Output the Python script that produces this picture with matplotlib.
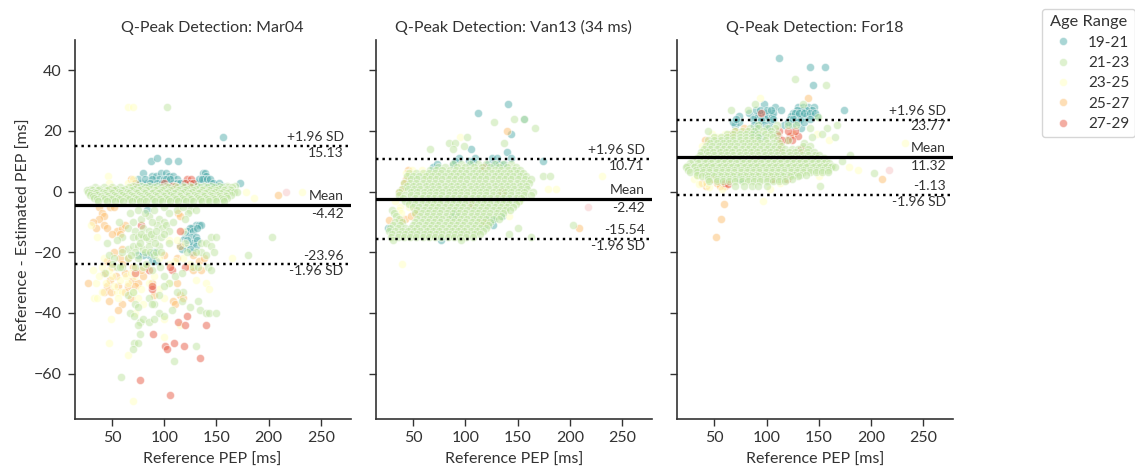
import numpy as np
import matplotlib
matplotlib.use("Agg")
import matplotlib.pyplot as plt
from matplotlib.lines import Line2D

plt.rcParams['font.family'] = ['Lato', 'DejaVu Sans']

age_ranges = ['19-21', '21-23', '23-25', '25-27', '27-29']
age_colors = ['#54aead', '#bfe5a0', '#ffffbe', '#fdbf6f', '#e95c47']
pale_pink = '#f6c4c4'

titles = ['Q-Peak Detection: Mar04', 'Q-Peak Detection: Van13 (34 ms)', 'Q-Peak Detection: For18']
mean_values = [-4.42, -2.42, 11.32]
upper_values = [15.13, 10.71, 23.77]
lower_values = [-23.96, -15.54, -1.13]
pink_points = [(217, 0), (217, -5), (217, 7)]

# ---- Mar04 -----
mar_teal = [(156,18),(87,10),(93,11),(104,10),(113,10),(173,3),(80,6),(88,5),(92,5),(97,6),(102,6),(105,5),(108,5),(112,4),
            (118,3),(125,3),(130,3),(135,3),(137,6),(139,6),(140,5),(138,4),(142,3),(145,3),(150,2),(72,3),(78,3),(84,3),
            (90,3),(95,4),(100,4),(104,3),(108,3),(112,3),(75,4),(82,4),(88,4),(143,2),(148,2),(155,2),(130,-11),(133,-11),
            (127,-12),(135,-11),(125,-12),(122,-13),(128,-13),(131,-12),(120,-14),(126,-15),(130,-15),(118,-16),(123,-17),
            (128,-17),(131,-16),(115,-18),(120,-18),(130,-18),(127,-20),(90,-20),(85,-21),(80,-21),(88,-23),(75,-21),(92,-23),(84,-6),
            (86,3),(93,3),(98,3),(102,4),(106,4),(115,3),(121,3),(128,3),(133,4),(136,4),(141,4),(144,4),(147,3),(152,3),(122,-16),(117,-19),(125,-19)]
mar_orange = [(209,-1),(38,-5),(40,-7),(42,-8),(38,-9),(32,-10),(35,-12),(42,-11),(45,-12),(55,-13),(60,-12),(62,-11),(58,-14),
              (50,-14),(52,-20),(45,-23),(58,-22),(60,-24),(50,-25),(42,-27),(27,-30),(45,-31),(42,-33),(49,-33),(56,-31),(65,-31),
              (47,-36),(60,-37),(56,-39),(69,-29),(75,-30),(90,-34),(108,-36),(110,-37),(115,-34),(112,-22),(100,-21),(115,-18),
              (128,-21),(133,-23),(138,-22),(125,-25),(113,-7),(115,-8),(48,-5),(52,-5),(47,1),(50,1),(68,4),(72,3),(80,-28),
              (84,-25),(65,-22),(60,-19),(70,-25),(78,-26),(112,-30),(128,-26),(135,-26),(62,-33),(68,-35),(54,-28),(48,-29),
              (62,-27),(72,-31),(88,-30),(118,-35)]
mar_yellow = [(65,28),(70,28),(46,5),(47,3),(65,3),(70,4),(178,0),(186,-2),(232,0),(30,-11),(36,-15),(32,-26),(33,-35),(36,-35),
              (40,-33),(35,-30),(40,-25),(50,-28),(55,-33),(60,-33),(65,-30),(70,-33),(75,-35),(80,-37),(85,-30),(90,-28),(47,-50),
              (65,-54),(49,-42),(70,-69),(100,-48),(100,-42),(115,-44),(95,-32),(105,-30),(130,-29),(140,-30),(143,-32),(165,-22),
              (110,-23),(118,-22),(120,-17),(125,-24),(105,-24),(95,-22),(72,-40),(38,-28),(44,-30),(52,-31),(58,-29),(47,-26),
              (63,-28),(72,-28),(78,-32),(42,-22),(56,-35),(68,-27),(100,-35),(105,-16),(112,-16),(118,-13)]
mar_red = [(122,4),(126,4),(125,3),(128,3),(120,3),(110,2),(107,2),(100,3),(115,-13),(78,-11),(107,-26),(106,-25),(120,-25),(85,-26),
           (72,-27),(88,-32),(88,-31),(122,-41),(113,-43),(120,-44),(140,-44),(89,-47),(101,-51),(109,-50),(103,-52),(119,-51),
           (134,-55),(77,-62),(106,-67)]
mar_green_scatter = [(67,-7),(75,-6),(85,-8),(90,-6),(100,-5),(105,-7),(125,-6),(123,-7),(120,-9),(95,-9),(100,-10),(57,-10),(70,-10),
                     (65,-12),(72,-13),(80,-12),(85,-13),(93,-11),(98,-12),(102,-11),(105,-13),(60,-15),(70,-15),(75,-15),(80,-15),
                     (85,-16),(90,-15),(97,-15),(55,-16),(45,-17),(47,-21),(52,-22),(65,-19),(70,-18),(75,-18),(80,-19),(85,-18),
                     (95,-18),(105,-17),(135,-17),(140,-17),(145,-15),(150,-15),(135,-20),(145,-18),(148,-20),(122,-20),(130,-20),
                     (203,-15),(180,-21),(43,-27),(55,-25),(65,-22),(75,-22),(50,-24),(60,-25),(80,-25),(88,-26),(96,-25),(100,-28),
                     (105,-30),(110,-28),(117,-27),(128,-25),(132,-25),(142,-25),(145,-26),(140,-21),(118,-33),(112,-33),(100,-31),
                     (65,-34),(70,-33),(85,-35),(90,-37),(95,-34),(72,-37),(75,-38),(88,-37),(95,-40),(100,-41),(107,-39),(117,-36),
                     (125,-38),(132,-36),(134,-39),(140,-40),(143,-40),(150,-40),(67,-40),(71,-41),(77,-43),(80,-42),(85,-43),(90,-42),
                     (75,-44),(77,-47),(71,-50),(75,-50),(70,-52),(130,-51),(109,-56),(59,-61),(103,28),
                     (78,-14),(83,-15),(87,-14),(91,-17),(77,-17),(82,-20),(86,-20),(90,-21),(72,-20),(68,-21),(83,-24),(92,-20),(97,-20),
                     (78,-9),(88,-10),(82,-7),(92,-13),(100,-14),(108,-10),(112,-6),(118,-5),(130,-6),(60,-20),(58,-25),(72,-25)]
mar_green_rows = {
    2: [70,78,85,93,102,110,118,125,131,138,145,152,160,168],
    1.5: [34,42,50,58,66,74,82,90,97,104,112,119,126,134,141,148,155,161,165],
    1: [30,38,47,54,62,71,78,86,93,100,108,115,122,130,137,145,152,158,163],
    0.5: [26,31,37,45,52,60,68,76,83,91,98,106,113,120,128,136,143,150,157,164],
    0: [27,33,41,49,57,64,73,81,89,96,104,111,119,127,134,141,149,156,162,167,170],
    -0.5: [30,35,43,50,59,66,74,82,88,94,102,109,116,124,132,139,146,153,160],
    -1: [29,36,44,52,60,68,76,84,91,99,106,114,122,129,137,144,151,158,164],
    -1.5: [32,39,46,54,62,70,78,85,93,100,108,115,123,131,138,146,153,159],
    -2: [33,41,48,56,64,72,79,87,95,102,110,117,125,132,140,147,154,160],
    -2.5: [36,43,50,58,66,74,81,89,96,104,111,119,126,134,142,149,156],
    -3: [37,45,53,61,69,77,83,91,98,106,113,121,128,136,143,150,157],
}

# ---- Van13 -----
van_teal = [(141,29),(112,26),(156,24),(144,19),(105,14),(140,13),(174,10),(94,11),(109,11),(125,11),(130,11),(144,11),(69,8),(73,9),
            (88,9),(90,10),(103,10),(107,10),(122,9),(127,9),(132,9),(137,9),(120,-9.5),(125,-9.5),(127,-9),(135,-8),(126,-11),(88,-8),
            (90,-7),(77,-16),(26,-12),(118,-11)]
van_orange = [(140,20),(209,-12),(43,4),(41,3),(39,1),(36,0),(52,-6),(53,-7),(42,-9),(38,-9.5),(27,-9.5),(116,-10),(45,7),(48,-8),(120,-10)]
van_yellow = [(39,-24),(95,18),(179,1),(187,1),(231,5),(151,-3),(142,-8),(135,0),(37,-5),(36,-6),(46,-5),(38,-7),(49,7),(58,7),(62,5),(43,6),(33,-3)]
van_red = [(118,8),(105,-4),(135,0)]
van_green_scatter = [(147,24),(156,24),(127,23),(167,21),(102,18),(84,16),(90,16),(66,14),(88,14),(99,15),(137,16),(174,5),(181,5),
                     (203,-11),(150,-12),(142,-14),(163,-15),(31,-16),(96,-16)]
van_green_rows = {
    9: [88,96,104,112,120,128,136,144],
    8: [74,80,92,100,108,116,124,132,140,148],
    7: [66,72,78,85,91,97,103,110,116,122,128,134,141,147,152],
    6: [46,53,59,65,71,77,83,89,95,101,107,113,119,125,131,137,143,149,155],
    5: [44,50,56,62,68,74,80,86,92,98,104,110,116,122,128,134,140,146,152,158],
    4: [48,54,60,66,72,78,84,90,96,102,108,114,120,126,132,138,144,150,157,163],
    3: [41,47,53,59,65,71,77,83,89,95,101,107,113,119,125,131,137,143,149,155,161],
    2: [44,50,56,62,68,74,80,86,92,98,104,110,116,122,128,134,140,146,152,158],
    1: [39,45,51,57,63,69,75,81,87,93,99,105,111,117,123,129,135,141,147,153,159],
    0: [36,48,54,60,66,72,78,84,90,96,102,108,114,120,126,132,138,144,150,156,165],
    -1: [36,42,48,54,60,66,72,78,84,90,96,102,108,114,120,126,132,138,144,150,156,163],
    -2: [40,52,58,64,70,76,82,88,94,100,106,112,118,124,130,136,142,148,153],
    -3: [42,49,55,61,67,73,79,85,91,97,103,109,115,121,127,133,139,145,151],
    -4: [46,52,58,64,70,76,82,88,94,100,106,112,118,124,130,136,142,148],
    -5: [50,56,62,68,74,80,86,92,98,104,110,116,122,128,134,140,146],
    -6: [30,54,60,66,72,78,84,90,96,102,108,114,120,126,132,138,143],
    -7: [32,52,58,64,70,76,82,88,94,100,106,112,118,124,130,136],
    -8: [34,57,63,69,75,81,87,93,99,105,111,117,123,129,134],
    -9: [36,54,60,66,72,78,84,90,96,102,108,114,120,126,132],
    -10: [33,39,52,58,64,70,76,82,88,94,100,106,112,118,124],
    -11: [31,37,50,56,62,68,74,80,86,92,98,104,110,116,122],
    -12: [28,35,42,48,54,60,66,72,78,84,90,96,102,108,114,120],
    -13: [27,33,39,45,51,57,63,69,75,81,87,93,99,105,111,117],
    -14: [30,36,42,48,54,60,66,72,78,84,90,96,102,108,114],
    -15: [29,35,41,47,53,59,65,71,77,83,89,95,101,107],
}

# ---- For18 -----
for_teal = [(112,44),(141,41),(156,41),(144,35),(174,27),(97,29),(108,28),(114,27),(73,25),(83,26),(89,24.6),(92,25),(95,26),(98,26),
            (101,25),(105,25),(106,26),(98,24),(103,23),(92,23),(87,24),(95,23.5),(106,24),(70,22),(73,23),(68,23),(71,24),(130,28),
            (135,28),(140,28),(145,28),(143,27),(138,27),(133,27),(129,27),(125,26),(123,25),(129,25),(133,25),(138,25),(143,25),
            (148,25),(122,24),(127,24),(132,24),(117,22),(124,22),(133,21),(89,20),(92,18.5),(95,18),(74,4),
            (127,26),(131,26),(136,26),(141,26),(146,26),(125,24),(130,23),(136,23),(141,24),(120,23),(90,27),(94,27),(100,27),(104,27),
            (88,22),(97,22),(102,21),(90,21),(87,19)]
for_orange = [(140,31),(59,-4),(56,-9),(51,-15),(210,4),(78,21),(41,17),(42,2),(60,2),(52,3),(113,16),(125,19),(105,5),(48,4),(70,20),(66,19),(38,3),(55,2)]
for_yellow = [(96,-3),(94,31),(179,8),(187,7),(160,17),(148,19),(232,16),(150,5),(30,4),(35,2.6),(42,3),(57,1),(103,1),(113,3),(38,15),(48,19),(60,19),(33,5),(45,1.5),(52,18)]
for_red = [(95,26),(111,18.5),(122,18.5),(130,18.5),(119,17),(124,17),(113,14),(133,14),(105,4),(119,4),(60,3),(63,2.6),(115,17),(127,20),(120,20),(112,20)]
for_green_scatter = [(127,37),(157,35),(66,27),(82,27),(89,29),(135,29),(149,24.6),(167,22),(158,21),(165,18),(141,21),(153,19),(143,18),
                     (180,12),(172,10),(203,6),(150.6,2),(44,20)]
for_green_rows = {
    22: [92,110,120,128],
    21: [84,92,100,108],
    20: [70,76,82,88,96,104],
    19: [62,68,74,80,86,92,98,104,110],
    18: [50,56,62,68,74,80,86,92,100,106],
    17: [44,50,56,62,68,74,80,86,92,98,110,120],
    16: [46,52,58,64,70,76,82,88,94,100,106,112,136],
    15: [42,48,54,60,66,72,78,84,90,96,102,108,114,135,141],
    14: [40,46,52,58,64,70,76,82,88,94,100,106,112,118,124,130,140],
    13: [37,43,49,55,61,67,73,79,85,91,97,103,109,115,121,127,133,139,145],
    12: [36,44,50,56,62,68,74,80,86,92,98,104,110,116,122,128,134,140,146,150],
    11: [33,40,46,52,58,64,70,76,82,88,94,100,106,112,118,124,130,136,142,148,155],
    10: [29,36,43,49,55,61,67,73,79,85,91,97,103,109,115,121,127,133,139,145,151,157],
    9.5: [27,34,41,47,53,59,65,71,77,83,89,95,101,107,113,119,125,131,137,143,149,155,160],
    8.5: [24,31,38,44,50,56,62,68,74,80,86,92,98,104,110,116,122,128,134,140,146,152,158,163],
    8: [23,30,36,42,48,54,60,66,72,78,84,90,96,102,108,114,120,126,132,138,144,150,156,162,165],
    7: [25,32,39,45,51,57,63,69,75,81,87,93,99,105,111,117,123,129,135,141,147,153,159],
    6.5: [27,33,39,45,51,57,63,69,75,81,87,93,99,105,111,117,123,129,135,141,147,153,159],
    5.5: [33,42,48,54,60,66,72,78,84,90,96,102,108,114,120,126,132,138],
    5: [38,44,50,56,62,68,74,80,86,92,98,104,110,116,122,130],
    4: [44,52,58,64,70,76,82,88,94,100,106,112,118,124],
    3.5: [45,52,58,64,70,76,82,88,94,100,106,112,118],
    2: [70,78,86,92,100],
}


def flatten(rows):
    return [(x, y) for y, xs in rows.items() for x in xs]


panels = [
    dict(teal=mar_teal, orange=mar_orange, yellow=mar_yellow, red=mar_red, green=flatten(mar_green_rows) + mar_green_scatter),
    dict(teal=van_teal, orange=van_orange, yellow=van_yellow, red=van_red, green=flatten(van_green_rows) + van_green_scatter),
    dict(teal=for_teal, orange=for_orange, yellow=for_yellow, red=for_red, green=flatten(for_green_rows) + for_green_scatter),
]
draw_order = [('teal', 0), ('orange', 3), ('yellow', 2), ('red', 4), ('green', 1)]

W, H = 1135, 472
fig = plt.figure(figsize=(W / 100, H / 100), dpi=100)
lefts = [74.5, 375.7, 677.0]
width = 276.0
top, bottom = 40.0, 419.0
text_col = '#333333'

for i, (left, panel) in enumerate(zip(lefts, panels)):
    ax = fig.add_axes([left / W, 1 - bottom / H, width / W, (bottom - top) / H])
    for key, c in draw_order:
        pts = np.array(panel[key], dtype=float)
        ax.scatter(pts[:, 0], pts[:, 1], s=34, color=age_colors[c], alpha=0.5,
                   edgecolor='white', linewidth=0.7, zorder=2)
    ax.scatter([pink_points[i][0]], [pink_points[i][1]], s=34, color=pale_pink, alpha=0.5,
               edgecolor='white', linewidth=0.7, zorder=2)
    ax.axhline(mean_values[i], color='black', lw=2.3, zorder=3)
    ax.axhline(upper_values[i], color='black', lw=1.75, ls=':', zorder=3)
    ax.axhline(lower_values[i], color='black', lw=1.75, ls=':', zorder=3)
    ax.set_xlim(14.1, 278.4)
    ax.set_ylim(-75, 50)
    ax.set_xticks([50, 100, 150, 200, 250])
    ax.set_yticks([-60, -40, -20, 0, 20, 40])
    if i > 0:
        ax.set_yticklabels([])
    ax.spines['top'].set_visible(False)
    ax.spines['right'].set_visible(False)
    for s in ('left', 'bottom'):
        ax.spines[s].set_linewidth(1.2)
        ax.spines[s].set_color(text_col)
    ax.tick_params(length=5, width=1.0, color=text_col, labelcolor=text_col, labelsize=11.5, pad=4)
    ax.set_title(titles[i], fontsize=11.5, color=text_col, pad=6)
    ax.set_xlabel('Reference PEP [ms]', fontsize=11.5, color=text_col, labelpad=5)
    if i == 0:
        ax.set_ylabel('Reference - Estimated PEP [ms]', fontsize=11.5, color=text_col, labelpad=2)
    tx = 0.975
    tf = ax.get_yaxis_transform()
    kw = dict(transform=tf, ha='right', fontsize=10, color=text_col, zorder=4)
    ax.text(tx, upper_values[i] + 0.9, '+1.96 SD', va='bottom', **kw)
    ax.text(tx, upper_values[i] - 0.3, f'{upper_values[i]:.2f}', va='top', **kw)
    ax.text(tx, mean_values[i] + 1.1, 'Mean', va='bottom', **kw)
    ax.text(tx, mean_values[i] - 0.9, f'{mean_values[i]:.2f}', va='top', **kw)
    ax.text(tx, lower_values[i] + 0.9, f'{lower_values[i]:.2f}', va='bottom', **kw)
    ax.text(tx, lower_values[i] - 0.3, '-1.96 SD', va='top', **kw)

handles = [Line2D([], [], ls='', marker='o', ms=5.8, mfc=c, mec='white', mew=0.7, alpha=0.5) for c in age_colors]
leg = fig.legend(handles, age_ranges, title='Age Range', fontsize=11, title_fontsize=11.8,
                 loc='upper left', bbox_to_anchor=(1041.7 / W, 1 - 9 / H), borderaxespad=0,
                 frameon=True, edgecolor='#cccccc', labelcolor=text_col, labelspacing=0.42,
                 handletextpad=0.62)
leg.get_title().set_color(text_col)

fig.savefig('out.png', dpi=100)
